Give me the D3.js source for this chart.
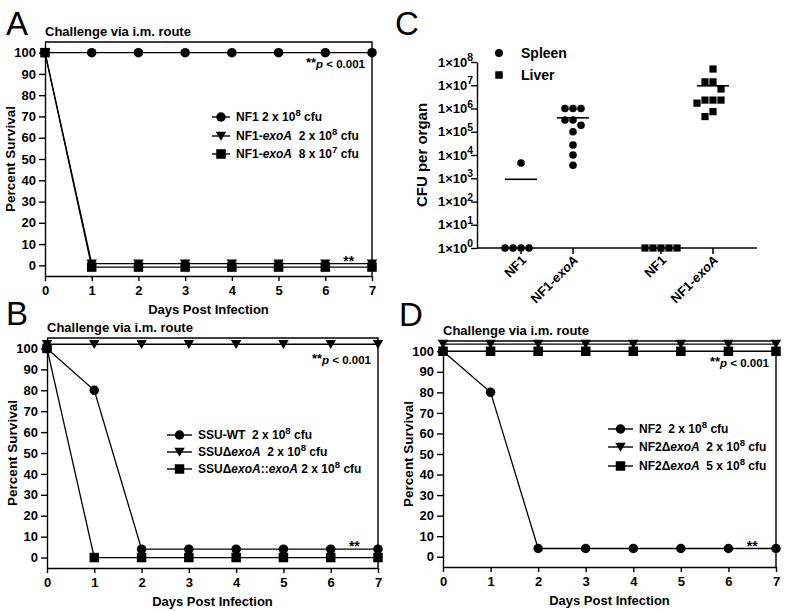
<!DOCTYPE html>
<html><head><meta charset="utf-8">
<script src="https://cdn.jsdelivr.net/npm/d3@7"></script>
<style>
body{margin:0;background:#fff}
svg{display:block;font-family:"Liberation Sans",Arial,Helvetica,sans-serif;font-weight:bold}
text{white-space:pre}
</style>
</head><body>
<svg id="fig" width="796" height="611"></svg>
<script>
// ---------------- DATA ----------------
const days = [0, 1, 2, 3, 4, 5, 6, 7];
const survivalTicks = [0, 10, 20, 30, 40, 50, 60, 70, 80, 90, 100];
const panelTitle = "Challenge via i.m. route";
const xTitle = "Days Post Infection";
const yTitle = "Percent Survival";
const pText = "p < 0.001";

// Panel A
const aNF1 = [100, 100, 100, 100, 100, 100, 100, 100];
const aNF1exoA_2e8 = [100, 0.8, 0.8, 0.8, 0.8, 0.8, 0.8, 0.8];
const aNF1exoA_8e7 = [100, -0.8, -0.8, -0.8, -0.8, -0.8, -0.8, -0.8];
const aLabels = ["NF1 2 x 10{s:8} cfu", "NF1-{i:exoA}  2 x 10{s:8} cfu", "NF1-{i:exoA}  8 x 10{s:7} cfu"];

// Panel B
const bWT = [100, 80, 4, 4, 4, 4, 4, 4];
const bDexoA = [102, 102, 102, 102, 102, 102, 102, 102];
const bComp = [100, 0, 0, 0, 0, 0, 0, 0];
const bLabels = ["SSU-WT  2 x 10{s:8} cfu", "SSU\u0394{i:exoA}  2 x 10{s:8} cfu", "SSU\u0394{i:exoA}::{i:exoA} 2 x 10{s:8} cfu"];

// Panel D
const dNF2 = [100, 80, 4, 4, 4, 4, 4, 4];
const dDexoA_2e8 = [103.5, 103.5, 103.5, 103.5, 103.5, 103.5, 103.5, 103.5];
const dDexoA_5e8 = [100, 100, 100, 100, 100, 100, 100, 100];
const dLabels = ["NF2  2 x 10{s:8} cfu", "NF2\u0394{i:exoA}  2 x 10{s:8} cfu", "NF2\u0394{i:exoA}  5 x 10{s:8} cfu"];

// Panel C (CFU per organ)
const organs = ["Spleen", "Liver"];
const strains = ["NF1", "NF1-exoA"];
const strainLabels = ["NF1", "NF1-{i:exoA}"];
const spleenNF1 = [4500, 1, 1, 1, 1];
const spleenNF1exoA = [1e6, 1e6, 1e6, 3.2e5, 3.2e5, 1.9e5, 1e5, 2.7e4, 1e4, 3.6e3];
const liverNF1 = [1, 1, 1, 1, 1];
const liverNF1exoA = [5e7, 1.4e7, 1.4e7, 6.9e6, 2.3e6, 2.3e6, 2.3e6, 1.7e6, 7.3e5, 4.5e5];
const cfuTicks = [1, 10, 100, 1e3, 1e4, 1e5, 1e6, 1e7, 1e8];
const cfuTitle = "CFU per organ";

// ---------------- DRAWING ----------------
const svg = d3.select("#fig");
const FONT = '"Liberation Sans",Arial,Helvetica,sans-serif';

function rich(sel, str, size) {
  const re = /\{([is]):([^}]*)\}/g;
  let last = 0, m, shift = 0;
  const add = (txt, kind) => {
    if (!txt) return;
    const t = sel.append("tspan").text(txt);
    if (kind === "s") {
      t.attr("font-size", size * 0.8).attr("dy", -size * 0.42);
      shift = size * 0.42;
    } else {
      if (shift) { t.attr("dy", shift); shift = 0; }
      if (kind === "i") t.attr("font-style", "italic");
    }
  };
  while ((m = re.exec(str))) { add(str.slice(last, m.index), null); add(m[2], m[1]); last = re.lastIndex; }
  add(str.slice(last), null);
}

function marker(g, shape, cx, cy, s) {
  if (shape === "circle") g.append("circle").attr("cx", cx).attr("cy", cy).attr("r", s * 0.5).attr("fill", "#000");
  else if (shape === "square") g.append("rect").attr("x", cx - s * 0.5).attr("y", cy - s * 0.5).attr("width", s).attr("height", s).attr("fill", "#000");
  else if (shape === "tri") g.append("path")
      .attr("d", `M${cx - s * 0.55},${cy - s * 0.45}L${cx + s * 0.55},${cy - s * 0.45}L${cx},${cy + s * 0.5}Z`).attr("fill", "#000");
}

function styleAxis(ax, size) {
  ax.attr("font-family", FONT).attr("font-size", size).attr("font-weight", "bold");
  ax.selectAll("path,line").attr("stroke", "#000").attr("stroke-width", 1.4);
  ax.selectAll("text").attr("fill", "#000");
}

function panelLetter(letter, x, y) {
  svg.append("text").attr("x", x).attr("y", y).attr("font-size", 33).attr("font-weight", "normal").text(letter);
}

function survivalPanel(o) {
  const g = svg.append("g");
  const x = d3.scaleLinear().domain([0, 7]).range([o.left, o.right]);
  const y = d3.scaleLinear().domain([-5, 105]).range([o.bottom, o.top]);

  const xa = g.append("g").attr("transform", `translate(0,${o.bottom})`)
    .call(d3.axisBottom(x).tickValues(days).tickSize(5).tickSizeOuter(0).tickPadding(5).tickFormat(d3.format("d")));
  styleAxis(xa, 13);
  const ya = g.append("g").attr("transform", `translate(${o.left},0)`)
    .call(d3.axisLeft(y).tickValues(survivalTicks).tickSize(6).tickSizeOuter(0).tickPadding(3));
  styleAxis(ya, 13);
  g.append("path").attr("d", `M${o.left},${o.top}H${o.right}V${o.bottom}`)
    .attr("fill", "none").attr("stroke", "#000").attr("stroke-width", 1.4);

  g.append("text").attr("x", o.left).attr("y", o.top - 6).attr("font-size", 13).text(panelTitle);
  g.append("text").attr("x", (o.left + o.right) / 2).attr("y", o.bottom + 38)
    .attr("text-anchor", "middle").attr("font-size", 13).text(xTitle);
  g.append("text").attr("transform", `translate(${o.left - 30},${(o.top + o.bottom) / 2}) rotate(-90)`)
    .attr("text-anchor", "middle").attr("font-size", 13.5).text(yTitle);

  const line = d3.line().x((d, i) => x(days[i])).y(d => y(d));
  o.series.forEach(s => {
    g.append("path").attr("d", line(s.values)).attr("fill", "none").attr("stroke", "#000").attr("stroke-width", 1.3);
  });
  o.series.forEach(s => {
    s.values.forEach((v, i) => marker(g, s.shape, x(days[i]), y(v), 9.5));
  });

  // significance text
  const pt = g.append("text").attr("x", o.right - 7).attr("y", o.top + 26).attr("text-anchor", "end").attr("font-size", 11.5);
  pt.append("tspan").attr("font-size", 13).attr("dy", -1).text("**");
  pt.append("tspan").attr("font-style", "italic").attr("dy", 1).text("p");
  pt.append("tspan").text(pText.slice(1));
  g.append("text").attr("x", x(6.5)).attr("y", y(o.starAt) + 2).attr("text-anchor", "middle").attr("font-size", 14).text("**");

  // legend
  o.series.forEach((s, i) => {
    const ry = o.legend.rows[i];
    const [l0, l1] = o.legend.line;
    g.append("line").attr("x1", l0).attr("x2", l1).attr("y1", ry).attr("y2", ry).attr("stroke", "#000").attr("stroke-width", 1.4);
    marker(g, s.shape, (l0 + l1) / 2, ry, 9.5);
    const t = g.append("text").attr("x", l1 + 6).attr("y", ry + 4).attr("font-size", 12);
    rich(t, s.label, 12);
  });
}

panelLetter("A", 6, 35);
survivalPanel({
  left: 45, right: 372, top: 42, bottom: 276, starAt: 0.8,
  series: [
    { values: aNF1, shape: "circle", label: aLabels[0] },
    { values: aNF1exoA_2e8, shape: "tri", label: aLabels[1] },
    { values: aNF1exoA_8e7, shape: "square", label: aLabels[2] }
  ],
  legend: { rows: [117, 136, 154], line: [212, 230] }
});

panelLetter("B", 6, 325);
survivalPanel({
  left: 47, right: 378, top: 338, bottom: 568, starAt: 4,
  series: [
    { values: bWT, shape: "circle", label: bLabels[0] },
    { values: bDexoA, shape: "tri", label: bLabels[1] },
    { values: bComp, shape: "square", label: bLabels[2] }
  ],
  legend: { rows: [435, 452, 469], line: [167, 192] }
});

panelLetter("D", 399, 326);
survivalPanel({
  left: 443, right: 776, top: 341, bottom: 567, starAt: 4,
  series: [
    { values: dNF2, shape: "circle", label: dLabels[0] },
    { values: dDexoA_2e8, shape: "tri", label: dLabels[1] },
    { values: dDexoA_5e8, shape: "square", label: dLabels[2] }
  ],
  legend: { rows: [429, 447, 466], line: [608, 633] }
});

// ---------------- Panel C ----------------
panelLetter("C", 395, 35);
(function () {
  const g = svg.append("g");
  const L = 477, R = 757, B = 248, T = 62;
  const y = d3.scaleLog().domain([1, 1e8]).range([B, T]);
  const xo = d3.scalePoint().domain(organs).range([L, R]).padding(0.5);
  const xi = d3.scalePoint().domain(strains).range([-26, 26]);

  const ya = g.append("g").attr("transform", `translate(${L},0)`)
    .call(d3.axisLeft(y).tickValues(cfuTicks).tickSize(6).tickSizeOuter(0).tickFormat(""));
  styleAxis(ya, 12);
  cfuTicks.forEach(v => {
    const t = g.append("text").attr("x", L - 4).attr("y", y(v) + 4.5).attr("text-anchor", "end").attr("font-size", 13);
    rich(t, "1\u00d710{s:" + Math.round(Math.log10(v)) + "}", 13);
  });
  g.append("text").attr("transform", `translate(427,${(T + B) / 2}) rotate(-90)`)
    .attr("text-anchor", "middle").attr("font-size", 15).text(cfuTitle);

  g.append("line").attr("x1", L).attr("x2", R).attr("y1", B).attr("y2", B).attr("stroke", "#000").attr("stroke-width", 1.5);

  const groups = [
    { organ: "Spleen", strain: 0, vals: spleenNF1, shape: "circle" },
    { organ: "Spleen", strain: 1, vals: spleenNF1exoA, shape: "circle" },
    { organ: "Liver", strain: 0, vals: liverNF1, shape: "square" },
    { organ: "Liver", strain: 1, vals: liverNF1exoA, shape: "square" }
  ];
  const step = 8;
  groups.forEach(gr => {
    const cx = xo(gr.organ) + xi(strains[gr.strain]);
    g.append("line").attr("x1", cx).attr("x2", cx).attr("y1", B).attr("y2", B + 6).attr("stroke", "#000").attr("stroke-width", 1.5);
    const lt = g.append("text").attr("text-anchor", "end").attr("font-size", 13)
      .attr("transform", `translate(${cx + 6},${B + 13}) rotate(-45)`);
    rich(lt, strainLabels[gr.strain], 13);

    // dodge placement (beeswarm) computed from the values
    const placed = [];
    const sorted = gr.vals.slice().sort((a, b) => b - a);
    sorted.forEach(v => {
      const py = y(v);
      for (let k = 0; k < 40; k++) {
        const off = (k % 2 === 0 ? 1 : -1) * Math.ceil(k / 2) * step;
        const px = cx + off;
        if (placed.every(p => Math.hypot(p[0] - px, p[1] - py) >= step * 0.95)) { placed.push([px, py]); break; }
      }
    });
    placed.forEach(p => marker(g, gr.shape, p[0], p[1], gr.shape === "circle" ? 7.6 : 7.2));
    const mean = d3.mean(gr.vals);
    g.append("line").attr("x1", cx - 16).attr("x2", cx + 16).attr("y1", y(mean)).attr("y2", y(mean))
      .attr("stroke", "#000").attr("stroke-width", 1.6);
  });

  // legend
  marker(g, "circle", 499, 53, 8);
  g.append("text").attr("x", 521).attr("y", 58).attr("font-size", 14).text(organs[0]);
  marker(g, "square", 499, 75, 7.5);
  g.append("text").attr("x", 521).attr("y", 80).attr("font-size", 14).text(organs[1]);
})();
</script>
</body></html>
